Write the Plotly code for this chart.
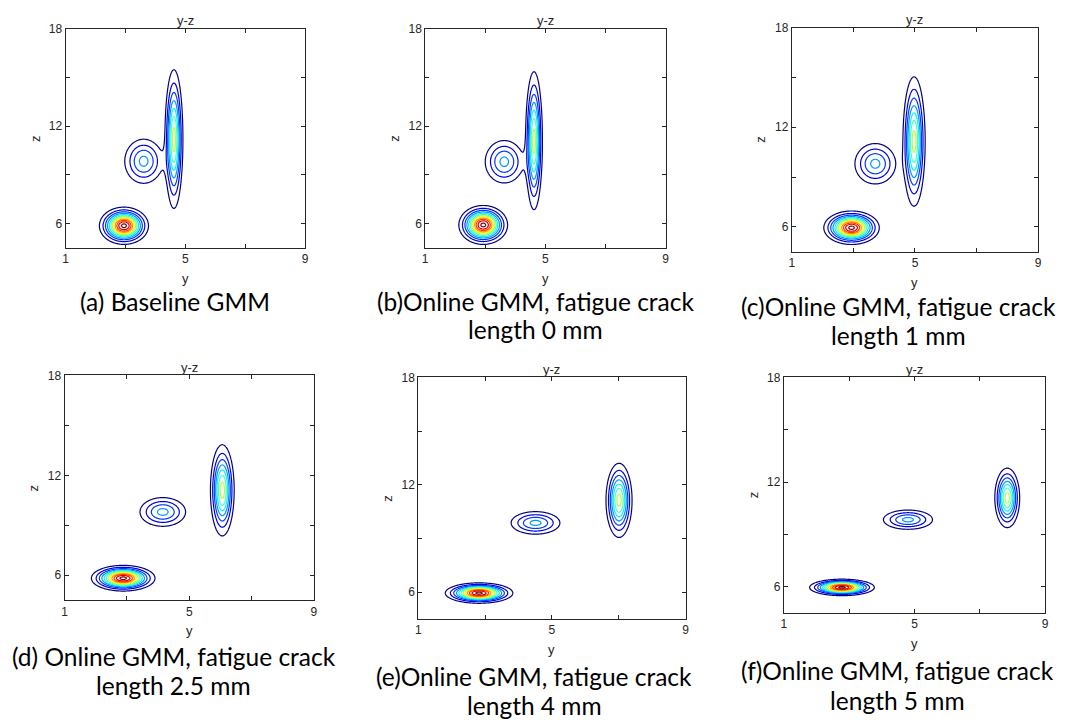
import numpy as np
import plotly.graph_objects as go

# Caption lines under each panel
captions = [
    ["(a) Baseline GMM"],
    ["(b)Online GMM, fatigue crack", "length 0 mm"],
    ["(c)Online GMM, fatigue crack", "length 1 mm"],
    ["(d) Online GMM, fatigue crack", "length 2.5 mm"],
    ["(e)Online GMM, fatigue crack", "length 4 mm"],
    ["(f)Online GMM, fatigue crack", "length 5 mm"],
]

# Three-component GMM per panel (y-z projection): means, std devs, weights
mean_y = [
    [2.95, 3.61, 4.62],
    [2.93, 3.63, 4.62],
    [2.94, 3.71, 4.97],
    [2.88, 4.15, 6.06],
    [2.82, 4.51, 7.01],
    [2.78, 4.80, 7.84],
]
mean_z = [
    [5.85, 9.83, 11.20],
    [5.90, 9.80, 11.10],
    [5.94, 9.80, 11.14],
    [5.82, 9.80, 11.10],
    [5.95, 9.87, 11.13],
    [5.97, 9.85, 11.10],
]
sigma_y = [
    [0.366, 0.370, 0.150],
    [0.362, 0.370, 0.140],
    [0.402, 0.386, 0.180],
    [0.455, 0.427, 0.190],
    [0.451, 0.427, 0.195],
    [0.442, 0.439, 0.190],
]
sigma_z = [
    [0.513, 0.795, 2.135],
    [0.536, 0.766, 2.125],
    [0.451, 0.713, 1.950],
    [0.344, 0.503, 1.365],
    [0.254, 0.368, 1.035],
    [0.210, 0.322, 0.850],
]
weights = [
    [0.388, 0.213, 0.399],
    [0.411, 0.210, 0.379],
    [0.371, 0.197, 0.432],
    [0.402, 0.194, 0.404],
    [0.394, 0.189, 0.417],
    [0.388, 0.206, 0.406],
]

x_ticks = [1, 3, 5, 7, 9]
x_tick_text = ["1", "", "5", "", "9"]
z_ticks = [6, 9, 12, 15, 18]
z_tick_text = ["6", "", "12", "", "18"]

W, H = 1069, 724
# plot boxes in pixels: left, right, top, bottom
boxes = [
    (63, 304, 22, 243),
    (425, 667, 22, 243),
    (794, 1042, 21, 247),
    (62, 313, 372, 599),
    (418, 687, 374, 618),
    (786, 1049, 374, 612),
]
caption_pos = [
    (173, [297]),
    (536, [297, 326]),
    (901, [302, 332]),
    (172, [656, 685]),
    (535, [676, 705]),
    (900, [670, 700]),
]

jet = [
    [0.0, "rgb(0,0,132)"],
    [0.125, "rgb(0,0,255)"],
    [0.375, "rgb(0,255,255)"],
    [0.625, "rgb(255,255,0)"],
    [0.875, "rgb(255,0,0)"],
    [1.0, "rgb(128,0,0)"],
]

gy = np.linspace(1, 9, 401)
gz = np.linspace(4.5, 18, 271)
YY, ZZ = np.meshgrid(gy, gz)


def gmm_density(k):
    dens = np.zeros_like(YY)
    for my, mz, sy, sz, w in zip(mean_y[k], mean_z[k], sigma_y[k], sigma_z[k], weights[k]):
        dens += w / (2 * np.pi * sy * sz) * np.exp(
            -0.5 * (((YY - my) / sy) ** 2 + ((ZZ - mz) / sz) ** 2)
        )
    return dens


fig = go.Figure()
axis_color = "#262626"
sans = "Liberation Sans, Arial, sans-serif"
tick_font = dict(family=sans, size=12, color=axis_color)
annotations = []

for k, (l, r, t, b) in enumerate(boxes):
    suffix = "" if k == 0 else str(k + 1)
    dens = gmm_density(k)
    peak = float(dens.max())
    step = peak / 12.3
    fig.add_trace(
        go.Contour(
            x=gy,
            y=gz,
            z=dens.astype(np.float32),
            xaxis="x" + suffix,
            yaxis="y" + suffix,
            colorscale=jet,
            zmin=0,
            zmax=peak,
            showscale=False,
            contours=dict(coloring="lines", start=step, end=12 * step, size=step),
            line=dict(width=1.2),
            hoverinfo="skip",
        )
    )
    common = dict(
        showline=True,
        linecolor=axis_color,
        linewidth=1,
        mirror="allticks",
        ticks="inside",
        ticklen=4,
        tickcolor=axis_color,
        tickfont=tick_font,
        showgrid=False,
        zeroline=False,
    )
    fig.update_layout(
        {
            "xaxis" + suffix: dict(
                domain=[l / W, r / W],
                range=[1, 9],
                tickvals=x_ticks,
                ticktext=x_tick_text,
                anchor="y" + suffix,
                **common,
            ),
            "yaxis" + suffix: dict(
                domain=[1 - b / H, 1 - t / H],
                range=[4.5, 18],
                tickvals=z_ticks,
                ticktext=z_tick_text,
                anchor="x" + suffix,
                **common,
            ),
        }
    )
    cx = (l + r) / 2
    cy = (t + b) / 2
    # panel title and axis labels
    annotations.append(dict(x=cx / W, y=1 - (t - 8) / H, text="y-z", showarrow=False,
                            xref="paper", yref="paper", xanchor="center", yanchor="middle",
                            borderpad=0,
                            font=dict(family=sans, size=13, color=axis_color)))
    annotations.append(dict(x=cx / W, y=1 - (b + 31) / H, text="y", showarrow=False,
                            xref="paper", yref="paper", xanchor="center", yanchor="middle",
                            borderpad=0,
                            font=dict(family=sans, size=13, color=axis_color)))
    annotations.append(dict(x=(l - 31) / W, y=1 - cy / H, text="z", showarrow=False, textangle=-90,
                            xref="paper", yref="paper", xanchor="center", yanchor="middle",
                            borderpad=0,
                            font=dict(family=sans, size=13, color=axis_color)))
    ccx, lines_y = caption_pos[k]
    for line_text, ly in zip(captions[k], lines_y):
        annotations.append(dict(x=ccx / W, y=1 - ly / H, text=line_text, showarrow=False,
                                xref="paper", yref="paper", xanchor="center", yanchor="middle",
                                borderpad=0,
                                font=dict(family="Lato, Carlito, sans-serif", size=24.5, color="#000000")))

fig.update_layout(
    width=W,
    height=H,
    margin=dict(l=0, r=0, t=0, b=0),
    paper_bgcolor="white",
    plot_bgcolor="white",
    showlegend=False,
    annotations=annotations,
)

fig.write_html("out.html")
